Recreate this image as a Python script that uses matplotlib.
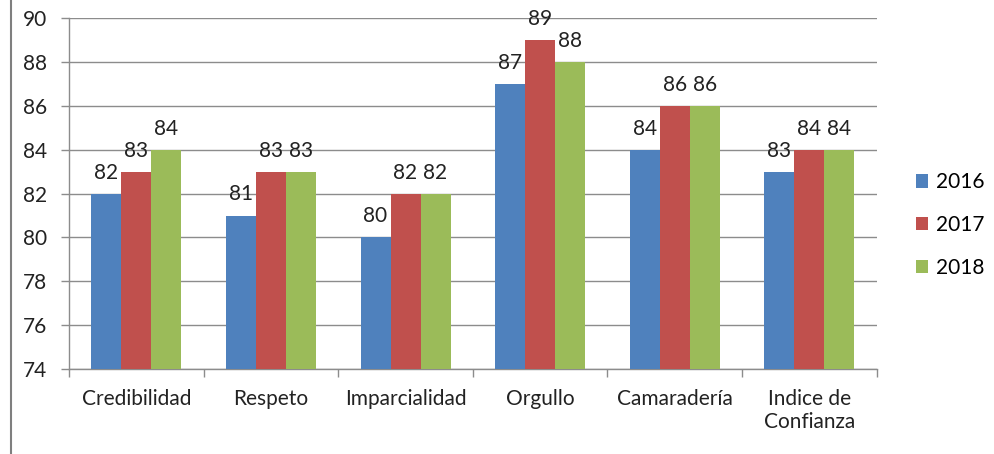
import matplotlib
matplotlib.use("Agg")
import matplotlib.pyplot as plt
import numpy as np

plt.rcParams['font.family'] = ['Lato', 'DejaVu Sans']

categories = ['Credibilidad', 'Respeto', 'Imparcialidad', 'Orgullo',
              'Camaradería', 'Indice de\nConfianza']
years = ['2016', '2017', '2018']
v2016 = [82, 81, 80, 87, 84, 83]
v2017 = [83, 83, 82, 89, 86, 84]
v2018 = [84, 83, 82, 88, 86, 84]
series = [v2016, v2017, v2018]
colors = ['#4F81BD', '#C0504D', '#9BBB59']

fig = plt.figure(figsize=(9.94, 4.54), dpi=100)
ax = fig.add_axes([0.0694, 0.187, 0.8126, 0.773])

x = np.arange(len(categories))
w = 0.223
for i, (vals, col, yr) in enumerate(zip(series, colors, years)):
    pos = x + (i - 1) * w
    bars = ax.bar(pos, np.array(vals) - 74, width=w, bottom=74, color=col,
                  label=yr, zorder=3)
    for b, v in zip(bars, vals):
        ax.annotate(str(v), (b.get_x() + b.get_width() / 2, v),
                    xytext=(0, 8), textcoords='offset points',
                    ha='center', va='bottom', fontsize=15, color='#222222')

ax.set_xlim(-0.5, len(categories) - 0.5)
ax.set_ylim(74, 90)
ax.set_yticks(range(74, 91, 2))
ax.yaxis.grid(True, color='#8c8c8c', linewidth=1, zorder=0)
ax.set_axisbelow(True)

# category labels between separator ticks
ax.set_xticks(x)
ax.set_xticklabels(categories, fontsize=15, color='#222222', linespacing=1.2)
ax.tick_params(axis='x', length=0, pad=14)
ax.set_xticks(np.arange(-0.5, len(categories) + 0.5, 1), minor=True)
ax.tick_params(axis='x', which='minor', length=6, color='#8c8c8c', width=1)
ax.tick_params(axis='y', length=6, color='#8c8c8c', width=1, labelsize=15,
               labelcolor='#222222', pad=10)

for s in ['top', 'right']:
    ax.spines[s].set_visible(False)
for s in ['left', 'bottom']:
    ax.spines[s].set_color('#8c8c8c')
    ax.spines[s].set_linewidth(1)

leg = ax.legend(loc='center left', bbox_to_anchor=(1.025, 0.41), frameon=False,
                fontsize=15, handlelength=0.6, handleheight=0.6,
                handletextpad=0.4, labelspacing=1.1)

# left chart frame line
fig.add_artist(plt.Line2D([0.0115, 0.0115], [0, 1], color='#7f7f7f',
                          linewidth=1.5, transform=fig.transFigure))

fig.savefig('out.png', dpi=100, facecolor='white')
